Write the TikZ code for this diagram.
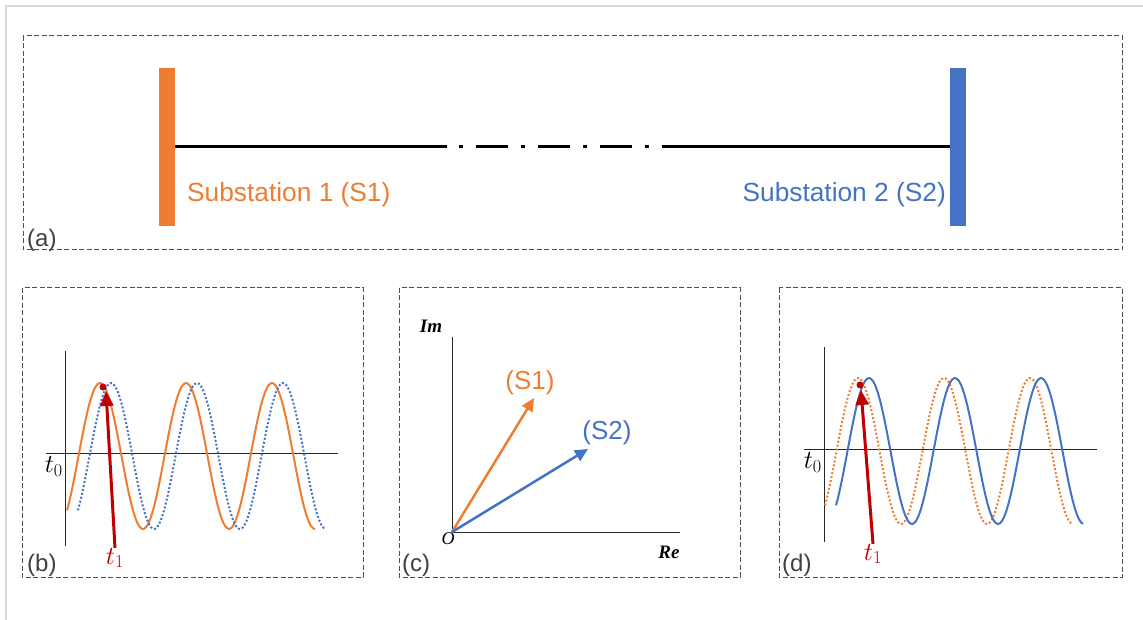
\documentclass[tikz,border=0pt]{standalone}
\usepackage{fix-cm}
\usepackage{fontspec}
\setmainfont{Liberation Sans}
\newfontfamily\timesfont{Liberation Serif}
\usetikzlibrary{arrows.meta}
\definecolor{sorange}{HTML}{ED7D31}
\definecolor{sblue}{HTML}{4472C4}
\definecolor{tred}{HTML}{C00000}
\definecolor{boxgray}{HTML}{505050}
\definecolor{labgray}{HTML}{404040}
\definecolor{framegray}{HTML}{D9D9D9}

\begin{document}
\begin{tikzpicture}[x=1pt,y=-1pt,
    panel/.style={draw=boxgray, line width=1pt, dash pattern=on 5pt off 2.5pt},
    bus/.style={rectangle, minimum width=16pt, minimum height=158pt, inner sep=0pt},
    feeder/.style={line width=3pt},
    axis/.style={line width=1pt, black!85},
    wave/.style={line width=2pt},
    dotwave/.style={line width=2pt, dash pattern=on 2pt off 2pt},
    vec/.style={line width=2.5pt, -{Triangle[length=13pt,width=12pt]}},
    tarrow/.style={line width=3pt, tred, -{Triangle[length=15pt,width=13pt]}},
    tdot/.style={circle, fill=tred, inner sep=0pt, minimum size=7pt},
    tagtxt/.style={text=labgray, anchor=base west, inner sep=0pt, font=\fontsize{24}{28}\selectfont},
    subtxt/.style={inner sep=0pt, font=\fontsize{26.3}{30}\selectfont},
    mathtxt/.style={inner sep=0pt, font=\fontsize{26}{30}\selectfont},
    axtxt/.style={inner sep=0pt, font=\fontsize{19}{22}\selectfont\timesfont\bfseries\itshape}
  ]
    \useasboundingbox (0,0) rectangle (1143,620);
    % outer frame (only top and left show)
    \draw[framegray, line width=2pt] (6,620) -- (6,6) -- (1143,6);

    % (a) the line between the two substations
    \draw[panel] (23,36) rectangle (1122,250);
    \node[bus, fill=sorange] (bus1) at (167,147) {};
    \node[bus, fill=sblue] (bus2) at (958,147) {};
    \coordinate (brk1) at (447,147);
    \coordinate (brk2) at (663,147);
    \draw[feeder] (bus1.east) -- (brk1);
    \draw[feeder, dash pattern=on 32pt off 13pt on 4pt off 13pt, dash phase=33pt] (brk1) -- (brk2);
    \draw[feeder] (brk2) -- (bus2.west);
    \node[subtxt, text=sorange, anchor=base west] (s1txt) at (187,202) {Substation 1 (S1)};
    \node[subtxt, text=sblue, anchor=base east] (s2txt) at (946,202) {Substation 2 (S2)};
    \node[tagtxt] (a-tag) at (27,247) {(a)};

    % (b) S1 leading S2 at t1
    \draw[panel] (22,288) rectangle (363,577);
    \draw[axis] (65,351) -- (65,546);
    \draw[axis] (46,453) -- (338,453);
    \node[mathtxt, anchor=north east] (b-t0) at (63,456) {$t_0$};
    \draw[wave, sorange] plot[smooth, samples=120, domain=67:315] (\x, {456-73*cos((\x-100)/86*360)});
    \draw[dotwave, sblue] plot[smooth, samples=120, domain=78:326] (\x, {456-73*cos((\x-111)/86*360)});
    \node[mathtxt, text=tred] (b-t1) at (115,558) {$t_1$};
    \coordinate (b-tip) at (106,391);
    \draw[tarrow] (b-t1.north) -- (b-tip);
    \node[tdot] (b-dot) at (103,387) {};
    \node[tagtxt] (b-tag) at (27,571) {(b)};

    % (c) phasors
    \draw[panel] (399,288) rectangle (740,577);
    \coordinate (c-o) at (452,532);
    \coordinate (c-im) at (452,337);
    \coordinate (c-re) at (680,532);
    \draw[axis] (c-im) -- (c-o) -- (c-re);
    \node[axtxt] (c-imtxt) at (431,326) {Im};
    \node[axtxt] (c-retxt) at (669,552) {Re};
    \node[inner sep=0pt, font=\fontsize{18}{22}\selectfont\timesfont\itshape] (c-otxt) at (448,539) {O};
    \coordinate (c-s1) at (534,398);
    \coordinate (c-s2) at (588,449);
    \draw[vec, sorange] (c-o) -- (c-s1);
    \draw[vec, sblue] (c-o) -- (c-s2);
    \node[inner sep=0pt, text=sorange, font=\fontsize{26}{30}\selectfont] (c-s1txt) at (530,383) {(S1)};
    \node[inner sep=0pt, text=sblue, font=\fontsize{26}{30}\selectfont] (c-s2txt) at (607,433) {(S2)};
    \node[tagtxt] (c-tag) at (402,571) {(c)};

    % (d) S2 lagging S1 at t1
    \draw[panel] (779,288) rectangle (1122,577);
    \draw[axis] (824,347) -- (824,542);
    \draw[axis] (804,449) -- (1097,449);
    \node[mathtxt, anchor=north east] (d-t0) at (822,452) {$t_0$};
    \draw[dotwave, sorange] plot[smooth, samples=120, domain=825:1073] (\x, {451-73*cos((\x-858)/86*360)});
    \draw[wave, sblue] plot[smooth, samples=120, domain=836:1083] (\x, {451-73*cos((\x-869)/86*360)});
    \node[mathtxt, text=tred] (d-t1) at (873,554) {$t_1$};
    \coordinate (d-tip) at (861,390);
    \draw[tarrow] (d-t1.north) -- (d-tip);
    \node[tdot] (d-dot) at (860,385) {};
    \node[tagtxt] (d-tag) at (782,571) {(d)};
\end{tikzpicture}
\end{document}
